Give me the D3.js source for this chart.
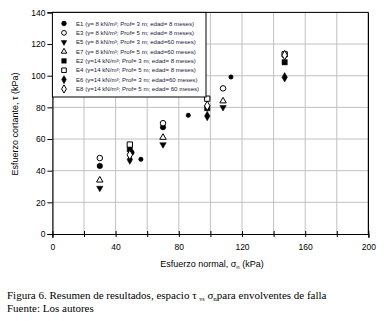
<!DOCTYPE html>
<html><head><meta charset="utf-8">
<script src="https://cdn.jsdelivr.net/npm/d3@7/dist/d3.min.js"></script>
<style>body{margin:0;background:#fff}svg{display:block}</style>
</head><body>
<svg id="c" width="386" height="321"></svg>
<script>
// Data (σn, τ) in kPa
const E1 = [[30,43],[50,51.5],[70,67.5]];
const E3 = [[30,48],[70,70],[108,92]];
const E5 = [[30,29],[70,56.5],[108,80]];
const E7 = [[30,34],[70,61],[108,84]];
const E2 = [[49,53.5],[98,79.5],[147,108.5]];
const E4 = [[49,56.5],[98,85.5],[147,113.5]];
const E6 = [[49,47],[98,74.5],[147,99]];
const E8 = [[49,50],[98,81],[147,113]];
const extra = [[56,47.2],[86,75],[113,99.2]];
const xTicks = [0,40,80,120,160,200];
const yTicks = [0,20,40,60,80,100,120,140];
const legendLabels = [
 "E1 (γ= 8 kN/m³; Prof= 3 m; edad= 8 meses)",
 "E3 (γ= 8 kN/m³; Prof= 5 m; edad= 8 meses)",
 "E5 (γ= 8 kN/m³; Prof= 3 m; edad=60 meses)",
 "E7 (γ= 8 kN/m³; Prof= 5 m; edad=60 meses)",
 "E2 (γ=14 kN/m³; Prof= 3 m; edad= 8 meses)",
 "E4 (γ=14 kN/m³; Prof= 5 m; edad= 8 meses)",
 "E6 (γ=14 kN/m³; Prof= 3 m; edad=60 meses)",
 "E8 (γ=14 kN/m³; Prof= 5 m; edad= 60 meses)"
];

const svg = d3.select("#c");
const x = d3.scaleLinear().domain([0,200]).range([52.4,368.4]);
const y = d3.scaleLinear().domain([0,140]).range([234,12.4]);
const font = "'Liberation Sans', Arial, sans-serif";

// grid
const grid = svg.append("g").attr("stroke","#c0c0c0").attr("stroke-width",1);
d3.range(20,201,20).forEach(v=>grid.append("line").attr("x1",x(v)).attr("x2",x(v)).attr("y1",y(0)).attr("y2",y(140)));
d3.range(20,141,20).forEach(v=>grid.append("line").attr("x1",x(0)).attr("x2",x(200)).attr("y1",y(v)).attr("y2",y(v)));
// frame right/top
svg.append("line").attr("x1",x(200)).attr("x2",x(200)).attr("y1",y(0)).attr("y2",y(140)).attr("stroke","#000").attr("stroke-width",1.2);
svg.append("line").attr("x1",x(0)).attr("x2",x(200)).attr("y1",y(140)).attr("y2",y(140)).attr("stroke","#000").attr("stroke-width",1);

// axes
const xa = svg.append("g").attr("transform",`translate(0,${y(0)})`)
  .call(d3.axisBottom(x).tickValues(d3.range(0,201,20)).tickSize(4).tickFormat(d=>xTicks.includes(d)?d:""));
xa.selectAll(".tick line").attr("y1",-3).attr("y2",3);
const ya = svg.append("g").attr("transform",`translate(${x(0)},0)`)
  .call(d3.axisLeft(y).tickValues(yTicks).tickSize(5).tickPadding(2));
[xa,ya].forEach(a=>{a.select(".domain").attr("stroke","#000").attr("stroke-width",1.2);
  a.selectAll("text").attr("font-family",font).attr("font-size",8.5).attr("fill","#000");
  a.selectAll(".tick line").attr("stroke","#000");});
xa.selectAll("text").attr("dy","1.1em");

// symbols
const sizes = {circle:24, small:15, square:28, diamond:26, tri:18};
const types = {circle:d3.symbolCircle, small:d3.symbolCircle, square:d3.symbolSquare, diamond:d3.symbolDiamond, tri:d3.symbolTriangle};
const series = [
 {d:E1,s:"circle",f:true},{d:E3,s:"circle",f:false},
 {d:E5,s:"tri",f:true,rot:180},{d:E7,s:"tri",f:false},
 {d:E2,s:"square",f:true},{d:E4,s:"square",f:false},
 {d:E6,s:"diamond",f:true},{d:E8,s:"diamond",f:false}
];
function drawSym(g,s,f,rot,px,py,k){
  k = k||1;
  g.append("path").attr("d",d3.symbol().type(types[s]).size(sizes[s]*k)())
   .attr("transform",`translate(${px},${py})${rot?` rotate(${rot})`:""}`)
   .attr("fill",f?"#000":"#fff").attr("stroke","#000").attr("stroke-width",f?0.5:1);
}
const pts = svg.append("g");
extra.forEach(p=>drawSym(pts,"small",true,0,x(p[0]),y(p[1])));
series.forEach(se=>se.d.forEach(p=>drawSym(pts,se.s,se.f,se.rot,x(p[0]),y(p[1]))));

// legend
const lg = svg.append("g");
lg.append("rect").attr("x",x(0)).attr("y",y(140)).attr("width",206-x(0)).attr("height",97-y(140))
  .attr("fill","#fff").attr("stroke","#000").attr("stroke-width",1);
legendLabels.forEach((t,i)=>{
  const yy = 23.5 + i*9.35;
  const se = series[i];
  drawSym(lg,se.s,se.f,se.rot,64,yy,0.75);
  lg.append("text").attr("x",76).attr("y",yy+2.2).attr("font-family",font).attr("font-size",6.1)
    .attr("fill","#1a1a40").text(t);
});

// axis titles
svg.append("text").attr("transform","translate(18,124) rotate(-90)").attr("text-anchor","middle")
  .attr("font-family",font).attr("font-size",9).attr("fill","#000").text("Esfuerzo cortante, τ (kPa)");
const xl = svg.append("text").attr("x",212).attr("y",267).attr("text-anchor","middle")
  .attr("font-family",font).attr("font-size",9).attr("fill","#000");
xl.append("tspan").text("Esfuerzo normal, σ");
xl.append("tspan").attr("font-size",6).attr("dy",2).text("n");
xl.append("tspan").attr("dy",-2).text(" (kPa)");

// caption
const serif = "'Liberation Serif', 'Times New Roman', serif";
const c1 = svg.append("text").attr("x",7).attr("y",299).attr("font-family",serif).attr("font-size",11).attr("fill","#000");
c1.append("tspan").text("Figura 6. Resumen de resultados, espacio τ ");
c1.append("tspan").attr("font-size",6).attr("dy",2).text("vs");
c1.append("tspan").attr("dy",-2).text(" σ");
c1.append("tspan").attr("font-size",7).attr("dy",2).text("n");
c1.append("tspan").attr("dy",-2).text("para envolventes de falla");
svg.append("text").attr("x",7).attr("y",312).attr("font-family",serif).attr("font-size",11).attr("fill","#000").text("Fuente: Los autores");
</script>
</body></html>
